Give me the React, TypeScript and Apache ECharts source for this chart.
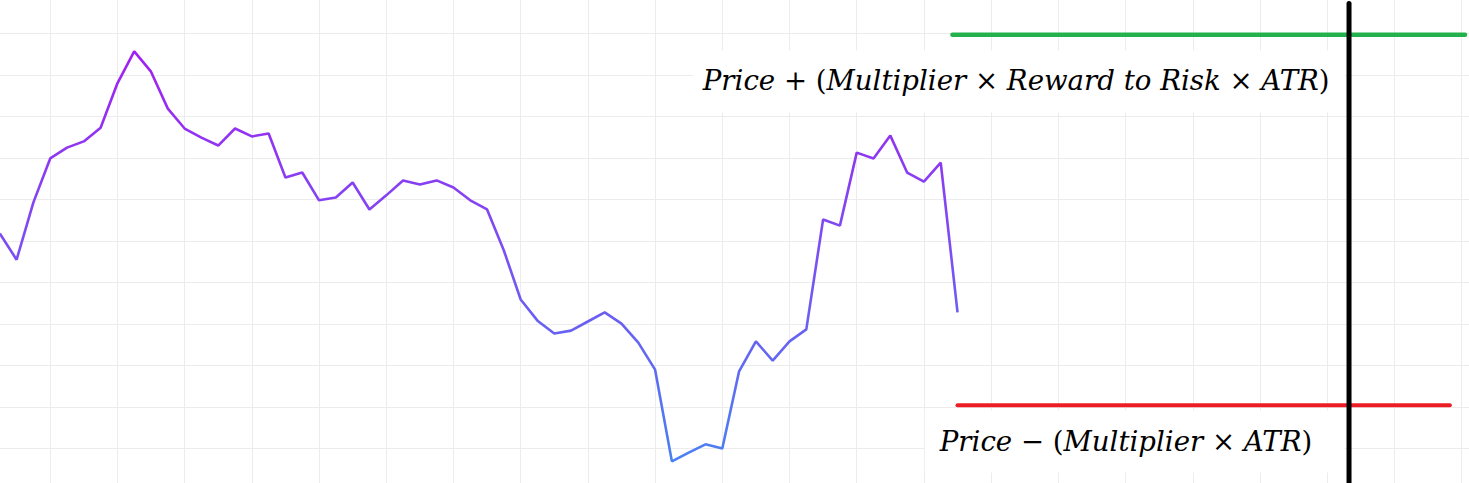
import React, { useEffect, useRef } from "react";
import * as echarts from "echarts";

// Price path (one value per bar, bars numbered from 1)
const priceValues: number[] = [
  61.8, 55.5, 69.3, 79.9, 82.5, 84.0, 87.3, 98.0, 105.7, 100.8,
  91.9, 87.1, 84.9, 83.0, 87.1, 85.2, 85.9, 75.3, 76.5, 69.8,
  70.5, 74.1, 67.6, 71.0, 74.6, 73.6, 74.6, 72.9, 69.8, 67.6,
  57.7, 45.9, 40.8, 37.7, 38.4, 40.6, 42.8, 40.1, 35.5, 29.0,
  6.9, 9.0, 11.0, 10.0, 28.6, 35.8, 31.2, 35.8, 38.7, 65.2,
  63.7, 81.3, 79.9, 85.4, 76.5, 74.3, 78.9, 42.8,
];

// Take-profit level (green) and stop-loss level (red)
const takeProfitLevel = 109.7;
const takeProfitRange: [number, number] = [57.7, 88.2];
const stopLossLevel = 20.4;
const stopLossRange: [number, number] = [58.0, 87.3];

// Vertical marker (black)
const markerBar = 81.3;
const markerRange: [number, number] = [117.2, 0];

const upperFormula = "Price + (Multiplier × Reward to Risk × ATR)";
const lowerFormula = "Price − (Multiplier × ATR)";

// the chart canvas is slightly larger than the window, offset up/left
const OFF_X = 16.8;
const OFF_Y = 8.5;
const CHART_W = 1486.8;
const CHART_H = 498;

function toRich(s: string): string {
  return s
    .split(/([+×−()])/)
    .map((part) => {
      if (part === "") return "";
      if (/^[+×−()]$/.test(part)) return `{u|${part}}`;
      return `{i|${part}}`;
    })
    .join("");
}

export default function App() {
  const ref = useRef<HTMLDivElement>(null);

  useEffect(() => {
    if (!ref.current) return;
    const chart = echarts.init(ref.current, null, { renderer: "svg" });

    const priceData = priceValues.map((v, i) => [i + 1, v]);

    const FS = 27.6;
    const richStyle = {
      i: {
        fontFamily: "DejaVu Serif",
        fontStyle: "italic",
        fontSize: FS,
        fill: "#000",
      },
      u: {
        fontFamily: "DejaVu Serif",
        fontStyle: "normal",
        fontSize: FS,
        fill: "#000",
      },
    };

    chart.setOption({
      animation: false,
      backgroundColor: "#ffffff",
      grid: { left: 0, right: 0, top: 0, bottom: 0 },
      xAxis: {
        type: "value",
        min: 0,
        max: 88.5,
        interval: 4,
        axisLine: { show: false },
        axisTick: { show: false },
        axisLabel: { show: false },
        splitLine: { show: true, lineStyle: { color: "#ececec", width: 1 } },
      },
      yAxis: {
        type: "value",
        min: 0,
        max: 120,
        interval: 10,
        axisLine: { show: false },
        axisTick: { show: false },
        axisLabel: { show: false },
        splitLine: { show: true, lineStyle: { color: "#ececec", width: 1 } },
      },
      visualMap: {
        show: false,
        type: "continuous",
        seriesIndex: 0,
        dimension: 1,
        min: 7,
        max: 106,
        inRange: { color: ["#4a80f2", "#7a50f2", "#a21ff2"] },
      },
      graphic: [
        {
          type: "rect",
          z: 1,
          shape: { x: 693 + OFF_X, y: 50 + OFF_Y, width: 652, height: 62 },
          style: { fill: "#ffffff" },
        },
        {
          type: "rect",
          z: 1,
          shape: { x: 925 + OFF_X, y: 410 + OFF_Y, width: 420, height: 62 },
          style: { fill: "#ffffff" },
        },
        {
          type: "text",
          z: 3,
          x: 703 + OFF_X,
          y: 80 + OFF_Y,
          style: {
            text: toRich(upperFormula),
            rich: richStyle,
            verticalAlign: "middle",
            align: "left",
          },
        },
        {
          type: "text",
          z: 3,
          x: 940 + OFF_X,
          y: 441 + OFF_Y,
          style: {
            text: toRich(lowerFormula),
            rich: richStyle,
            verticalAlign: "middle",
            align: "left",
          },
        },
      ],
      series: [
        {
          type: "line",
          data: priceData,
          showSymbol: false,
          lineStyle: { width: 2.6 },
          z: 2,
        },
        {
          type: "line",
          data: [
            [takeProfitRange[0], takeProfitLevel],
            [takeProfitRange[1], takeProfitLevel],
          ],
          showSymbol: false,
          lineStyle: { width: 4.6, color: "#22b14c", cap: "round" },
          z: 3,
        },
        {
          type: "line",
          data: [
            [stopLossRange[0], stopLossLevel],
            [stopLossRange[1], stopLossLevel],
          ],
          showSymbol: false,
          lineStyle: { width: 4, color: "#ed1c24", cap: "round" },
          z: 3,
        },
        {
          type: "line",
          data: [
            [markerBar, markerRange[0]],
            [markerBar, markerRange[1]],
          ],
          showSymbol: false,
          lineStyle: { width: 5, color: "#000000", cap: "round" },
          z: 4,
        },
      ],
    });

    return () => chart.dispose();
  }, []);

  return (
    <div
      style={{
        position: "absolute",
        left: 0,
        top: 0,
        width: 1469,
        height: 483,
        overflow: "hidden",
        background: "#ffffff",
      }}
    >
      <div
        ref={ref}
        style={{
          position: "absolute",
          left: -OFF_X,
          top: -OFF_Y,
          width: CHART_W,
          height: CHART_H,
        }}
      />
    </div>
  );
}
